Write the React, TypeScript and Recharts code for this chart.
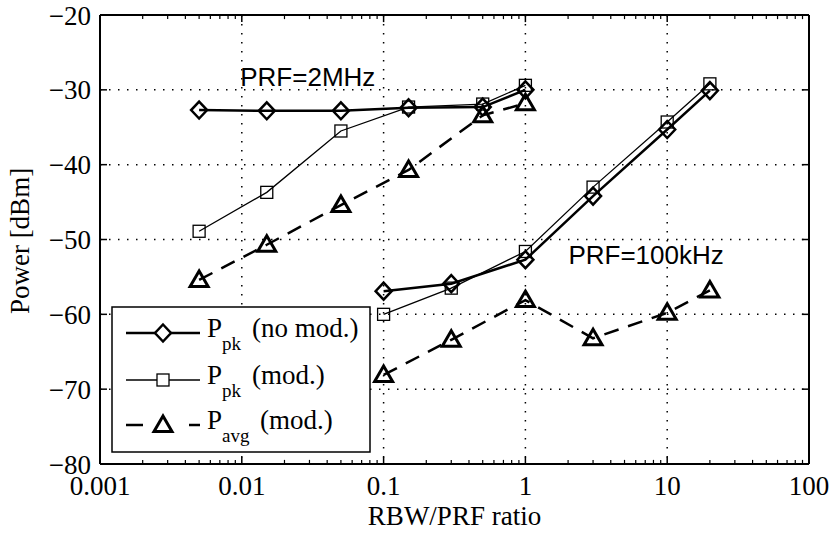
import React from 'react'
import {
  LineChart,
  Line,
  XAxis,
  YAxis,
  CartesianGrid,
  ReferenceLine,
  ReferenceDot,
} from 'recharts'

// PRF = 2 MHz sweep
const ratio2MHz = [0.005, 0.015, 0.05, 0.15, 0.5, 1]
const ppkNoMod2MHz = [-32.7, -32.8, -32.8, -32.4, -32.3, -30.0]
const ppkMod2MHz = [-48.9, -43.7, -35.5, -32.3, -31.9, -29.4]
const pavgMod2MHz = [-55.4, -50.7, -45.4, -40.7, -33.4, -31.8]

// PRF = 100 kHz sweep
const ratio100kHz = [0.1, 0.3, 1, 3, 10, 20]
const ppkNoMod100kHz = [-56.9, -55.9, -52.7, -44.2, -35.3, -30.1]
const ppkMod100kHz = [-60.0, -56.5, -51.6, -43.0, -34.3, -29.2]
const pavgMod100kHz = [-68.1, -63.4, -58.1, -63.2, -59.8, -56.8]

const xTicks = [0.001, 0.01, 0.1, 1, 10, 100]
const yTicks = [-80, -70, -60, -50, -40, -30, -20]
const legendLabels = [
  { sub: 'pk', rest: '(no mod.)' },
  { sub: 'pk', rest: '(mod.)' },
  { sub: 'avg', rest: '(mod.)' },
]

const SERIF = '"Liberation Serif", "Times New Roman", serif'
const SANS = '"Liberation Sans", Arial, sans-serif'

const toPoints = (xs: number[], ys: number[]) => xs.map((x, i) => ({ x, y: ys[i] }))

// minor log ticks 2..9 inside each decade
const minorTicks: number[] = []
xTicks.slice(0, -1).forEach((d) => {
  for (let k = 2; k <= 9; k++) minorTicks.push(d * k)
})

const diamondPath = (cx: number, cy: number) =>
  `M${cx},${cy - 8.5}L${cx + 8},${cy}L${cx},${cy + 8.5}L${cx - 8},${cy}Z`
const trianglePath = (cx: number, cy: number) =>
  `M${cx},${cy - 9}L${cx + 9},${cy + 6.5}L${cx - 9},${cy + 6.5}Z`

const DiamondDot = (p: any) => {
  if (p.cx == null || p.cy == null) return <g key={p.index} />
  return (
    <path key={p.index} d={diamondPath(p.cx, p.cy)} fill="none" stroke="#000" strokeWidth={2.5} />
  )
}

const SquareDot = (p: any) => {
  if (p.cx == null || p.cy == null) return <g key={p.index} />
  return (
    <rect
      key={p.index}
      x={p.cx - 6}
      y={p.cy - 6}
      width={12}
      height={12}
      fill="none"
      stroke="#000"
      strokeWidth={1.3}
    />
  )
}

const TriangleDot = (p: any) => {
  if (p.cx == null || p.cy == null) return <g key={p.index} />
  return (
    <path key={p.index} d={trianglePath(p.cx, p.cy)} fill="none" stroke="#000" strokeWidth={3} />
  )
}

const fmtY = (v: number) => (v < 0 ? '\u2212' + Math.abs(v) : String(v))

function LegendBox() {
  const rows = [333, 380, 425]
  return (
    <svg
      width={833}
      height={533}
      style={{ position: 'absolute', left: 0, top: 0, pointerEvents: 'none' }}
    >
      <rect x={112} y={307} width={258} height={145} fill="#fff" stroke="#000" strokeWidth={1.5} />
      {/* sample lines */}
      <line x1={126} y1={rows[0]} x2={200} y2={rows[0]} stroke="#000" strokeWidth={2.5} />
      <path d={diamondPath(163, rows[0])} fill="#fff" stroke="#000" strokeWidth={2.5} />
      <line x1={126} y1={rows[1]} x2={200} y2={rows[1]} stroke="#000" strokeWidth={1.3} />
      <rect x={157} y={rows[1] - 6} width={12} height={12} fill="#fff" stroke="#000" strokeWidth={1.3} />
      <line x1={126} y1={rows[2]} x2={143} y2={rows[2]} stroke="#000" strokeWidth={2.5} />
      <line x1={189} y1={rows[2]} x2={200} y2={rows[2]} stroke="#000" strokeWidth={2.5} />
      <path d={trianglePath(163, rows[2])} fill="none" stroke="#000" strokeWidth={3} />
      {legendLabels.map((l, i) => (
        <text key={i} x={207} y={rows[i] + 4} fontFamily={SERIF} fontSize={27} fill="#000">
          P
          <tspan dy={13} fontSize={19}>
            {l.sub}
          </tspan>
          <tspan x={l.sub === 'avg' ? 260 : 252} dy={-13} fontSize={27}>
            {l.rest}
          </tspan>
        </text>
      ))}
    </svg>
  )
}

export default function App() {
  const tickStyle = { fill: '#000', fontSize: 27, fontFamily: SERIF }
  return (
    <div
      style={{
        position: 'absolute',
        left: 0,
        top: 0,
        width: 833,
        height: 533,
        background: '#fff',
      }}
    >
      <LineChart width={833} height={533} margin={{ top: 15, right: 24, bottom: 0, left: 0 }}>
        <CartesianGrid stroke="#000" strokeWidth={1.5} strokeDasharray="1.5 7.5" />
        <XAxis
          dataKey="x"
          type="number"
          scale="log"
          domain={[0.001, 100]}
          ticks={xTicks}
          allowDataOverflow
          height={69}
          tickLine={false}
          tickSize={0}
          tickMargin={12}
          tick={tickStyle}
          axisLine={{ stroke: '#000', strokeWidth: 2 }}
          label={{
            value: 'RBW/PRF ratio',
            position: 'insideBottom',
            offset: 8,
            fill: '#000',
            fontSize: 27,
            fontFamily: SERIF,
          }}
        />
        <YAxis
          type="number"
          domain={[-80, -20]}
          ticks={yTicks}
          width={100}
          tickLine={false}
          tickSize={0}
          tickMargin={9}
          tick={tickStyle}
          tickFormatter={fmtY}
          axisLine={{ stroke: '#000', strokeWidth: 2 }}
          label={{
            content: () => (
              <text
                x={29}
                y={241}
                transform="rotate(-90 29 241)"
                textAnchor="middle"
                fontFamily={SERIF}
                fontSize={27}
                fill="#000"
              >
                Power [dBm]
              </text>
            ),
          }}
        />

        {/* frame top / right */}
        <ReferenceLine y={-20} stroke="#000" strokeWidth={2} />
        <ReferenceLine x={100} stroke="#000" strokeWidth={2} />

        {/* inward ticks */}
        {minorTicks.map((t) => (
          <ReferenceLine key={'mb' + t} segment={[{ x: t, y: -80 }, { x: t, y: -79.45 }]} stroke="#000" strokeWidth={1.2} />
        ))}
        {minorTicks.map((t) => (
          <ReferenceLine key={'mt' + t} segment={[{ x: t, y: -20 }, { x: t, y: -20.55 }]} stroke="#000" strokeWidth={1.2} />
        ))}
        {xTicks.map((t) => (
          <ReferenceLine key={'Mb' + t} segment={[{ x: t, y: -80 }, { x: t, y: -79.05 }]} stroke="#000" strokeWidth={1.5} />
        ))}
        {xTicks.map((t) => (
          <ReferenceLine key={'Mt' + t} segment={[{ x: t, y: -20 }, { x: t, y: -20.95 }]} stroke="#000" strokeWidth={1.5} />
        ))}
        {yTicks.map((t) => (
          <ReferenceLine key={'Ml' + t} segment={[{ x: 0.001, y: t }, { x: 0.00112, y: t }]} stroke="#000" strokeWidth={1.5} />
        ))}
        {yTicks.map((t) => (
          <ReferenceLine key={'Mr' + t} segment={[{ x: 89, y: t }, { x: 100, y: t }]} stroke="#000" strokeWidth={1.5} />
        ))}

        {/* PRF = 2 MHz */}
        <Line data={toPoints(ratio2MHz, pavgMod2MHz)} dataKey="y" stroke="#000" strokeWidth={2.5} strokeDasharray="15 10" dot={TriangleDot} isAnimationActive={false} />
        <Line data={toPoints(ratio2MHz, ppkMod2MHz)} dataKey="y" stroke="#000" strokeWidth={1.3} dot={SquareDot} isAnimationActive={false} />
        <Line data={toPoints(ratio2MHz, ppkNoMod2MHz)} dataKey="y" stroke="#000" strokeWidth={2.5} dot={DiamondDot} isAnimationActive={false} />

        {/* PRF = 100 kHz */}
        <Line data={toPoints(ratio100kHz, pavgMod100kHz)} dataKey="y" stroke="#000" strokeWidth={2.5} strokeDasharray="15 10" dot={TriangleDot} isAnimationActive={false} />
        <Line data={toPoints(ratio100kHz, ppkMod100kHz)} dataKey="y" stroke="#000" strokeWidth={1.3} dot={SquareDot} isAnimationActive={false} />
        <Line data={toPoints(ratio100kHz, ppkNoMod100kHz)} dataKey="y" stroke="#000" strokeWidth={2.5} dot={DiamondDot} isAnimationActive={false} />

        <ReferenceDot
          x={0.0292}
          y={-28.3}
          r={0}
          label={{ value: 'PRF=2MHz', position: 'center', fill: '#000', fontSize: 26, fontFamily: SANS }}
        />
        <ReferenceDot
          x={7.1}
          y={-52}
          r={0}
          label={{ value: 'PRF=100kHz', position: 'center', fill: '#000', fontSize: 26, fontFamily: SANS }}
        />
      </LineChart>
      <LegendBox />
    </div>
  )
}
